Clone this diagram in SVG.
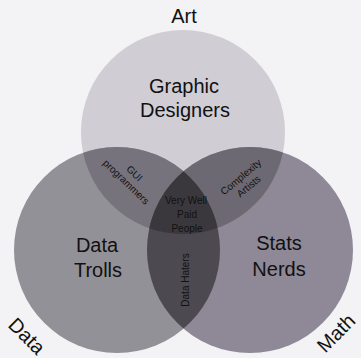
<svg xmlns="http://www.w3.org/2000/svg" width="361" height="358" viewBox="0 0 361 358">
  <style>
    text { font-family: "Liberation Sans", Arial, sans-serif; fill: #111; text-anchor: middle; }
    .big { font-size: 20px; }
    .small { font-size: 10px; }
  </style>
  <defs>
    <clipPath id="clipLeft"><circle cx="117" cy="250" r="103"/></clipPath>
    <clipPath id="clipRight"><circle cx="250" cy="250" r="103"/></clipPath>
  </defs>

  <rect width="361" height="358" fill="#f3f2f4"/>

  <!-- Art -->
  <g id="art">
    <circle cx="183" cy="132" r="102" fill="#d0cdd4"/>
    <text class="big" x="184" y="23">Art</text>
    <text class="big" x="184" y="93">Graphic</text>
    <text class="big" x="185" y="117">Designers</text>
  </g>

  <!-- Data -->
  <g id="data">
    <circle cx="117" cy="250" r="103" fill="#939198"/>
    <text class="big" x="97" y="252">Data</text>
    <text class="big" x="98" y="277">Trolls</text>
    <text class="big" transform="translate(27 336) rotate(45)" x="0" y="7">Data</text>
  </g>

  <!-- Math -->
  <g id="math">
    <circle cx="250" cy="250" r="103" fill="#8f8897"/>
    <text class="big" x="279" y="250">Stats</text>
    <text class="big" x="279" y="276">Nerds</text>
    <text class="big" transform="translate(336 333) rotate(-45)" x="0" y="7">Math</text>
  </g>

  <!-- Art ∩ Data -->
  <g id="gui-programmers">
    <g clip-path="url(#clipLeft)">
      <circle cx="183" cy="132" r="102" fill="#77737d"/>
    </g>
    <g transform="translate(130 178) rotate(44)">
      <text class="small" x="0" y="-3">GUI</text>
      <text class="small" x="0" y="9">programmers</text>
    </g>
  </g>

  <!-- Art ∩ Math -->
  <g id="complexity-artists">
    <g clip-path="url(#clipRight)">
      <circle cx="183" cy="132" r="102" fill="#6d6972"/>
    </g>
    <g transform="translate(245 182) rotate(-40)">
      <text class="small" x="0" y="-3">Complexity</text>
      <text class="small" x="0" y="9">Artists</text>
    </g>
  </g>

  <!-- Data ∩ Math -->
  <g id="data-haters">
    <g clip-path="url(#clipLeft)">
      <circle cx="250" cy="250" r="103" fill="#4c4951"/>
    </g>
    <text class="small" transform="translate(185 280) rotate(-90)" x="0" y="4">Data Haters</text>
  </g>

  <!-- Art ∩ Data ∩ Math -->
  <g id="very-well-paid-people">
    <g clip-path="url(#clipLeft)">
      <g clip-path="url(#clipRight)">
        <circle cx="183" cy="132" r="102" fill="#3a383d"/>
      </g>
    </g>
    <text class="small" x="186" y="204">Very Well</text>
    <text class="small" x="187" y="218">Paid</text>
    <text class="small" x="187" y="232">People</text>
  </g>
</svg>
